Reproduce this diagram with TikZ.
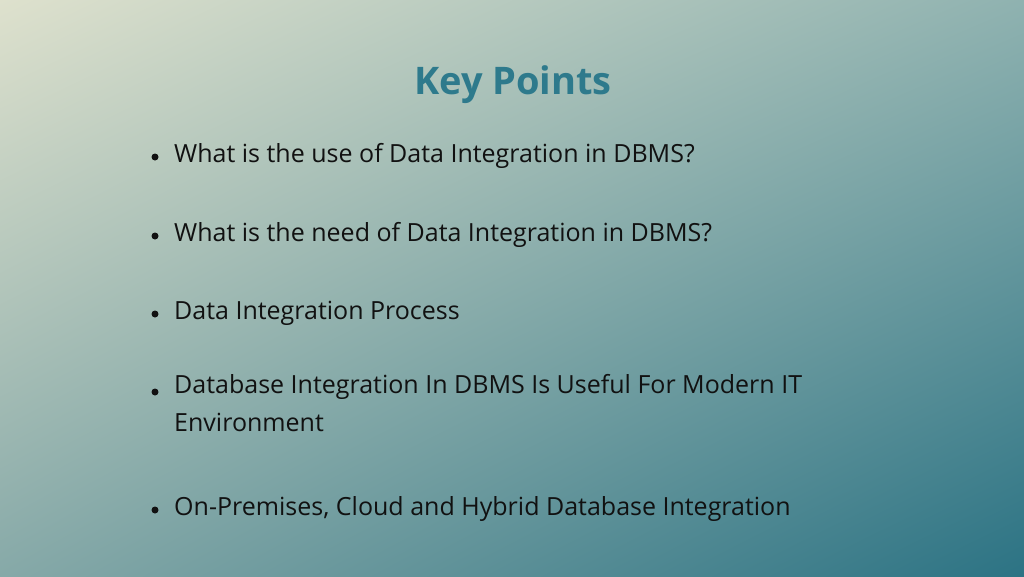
\documentclass[tikz,border=0pt]{standalone}
\usepackage{fontspec}
\setmainfont{Open Sans}
\usetikzlibrary{shadings}
\definecolor{ul}{HTML}{DEE1CD}
\definecolor{ur}{HTML}{8FB2B0}
\definecolor{ll}{HTML}{86A9A8}
\definecolor{lr}{HTML}{2C7384}
\definecolor{titlec}{HTML}{2E7A8C}
\definecolor{txt}{HTML}{111111}
\begin{document}
\begin{tikzpicture}[x=1pt,y=-1pt,
  item/.style={anchor=west,text=txt,font=\fontsize{25}{38}\selectfont,align=left,inner sep=0pt},
  dot/.style={circle,fill=txt,inner sep=0pt,minimum size=7pt}]
\useasboundingbox (0,0) rectangle (1024,576);
\shade[upper left=ul,upper right=ur,lower left=ll,lower right=lr] (0,0) rectangle (1024,576);
\node[text=titlec,font=\fontsize{38}{44}\selectfont\bfseries] (title) at (513,85) {Key Points};
\node[item] (a) at (174,156) {What is the use of Data Integration in DBMS?};
\node[item] (b) at (174,235) {What is the need of Data Integration in DBMS?};
\node[item] (c) at (174,313) {Data Integration Process};
\node[item,anchor=north west] (d) at (174,374) {Database Integration In DBMS Is Useful For Modern IT\\Environment};
\node[item] (e) at (174,509) {On-Premises, Cloud and Hybrid Database Integration};
\foreach \y in {157,236,314,392,510} \node[dot] at (155,\y) {};
\end{tikzpicture}
\end{document}
